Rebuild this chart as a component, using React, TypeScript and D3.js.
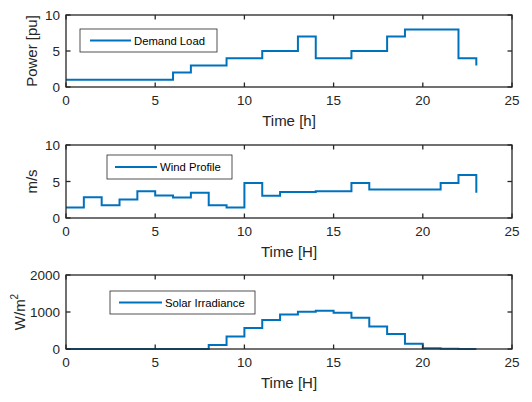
import React from "react";
import * as d3 from "d3";

const hours = d3.range(0, 24);
const demandLoad = [1, 1, 1, 1, 1, 1, 2, 3, 3, 4, 4, 5, 5, 7, 4, 4, 5, 5, 7, 8, 8, 8, 4, 3];
const windProfile = [1.45, 2.85, 1.73, 2.55, 3.68, 3.09, 2.82, 3.45, 1.73, 1.45, 4.8, 3.05, 3.55, 3.55, 3.65, 3.65, 4.8, 3.9, 3.9, 3.9, 3.9, 4.8, 5.9, 3.45];
const solarIrradiance = [0, 0, 0, 0, 0, 0, 0, 0, 110, 335, 570, 787, 932, 1004, 1032, 977, 842, 606, 407, 145, 18, 5, 0, 0];
const xTicks = [0, 5, 10, 15, 20, 25];
const loadTicks = [0, 5, 10];
const windTicks = [0, 5, 10];
const solarTicks = [0, 1000, 2000];

const W = 532;
const H = 402;
const LEFT = 66;
const RIGHT = 512;
const BLUE = "#0072BD";
const INK = "#262626";
const FONT = "'Liberation Sans', Arial, Helvetica, sans-serif";

type PanelProps = {
  top: number;
  bottom: number;
  values: number[];
  yMax: number;
  yTicks: number[];
  xLabel: string;
  yLabel: React.ReactNode;
  yLabelX: number;
  legend: { x: number; y: number; w: number; h: number; lineX1: number; lineX2: number; text: string };
};

function Panel({ top, bottom, values, yMax, yTicks, xLabel, yLabel, yLabelX, legend }: PanelProps) {
  const x = d3.scaleLinear().domain([0, 25]).range([LEFT, RIGHT]);
  const y = d3.scaleLinear().domain([0, yMax]).range([bottom, top]);
  const pts: [number, number][] = hours.map((h, i) => [h, values[i]]);
  const line = d3
    .line<[number, number]>()
    .x((d) => x(d[0]))
    .y((d) => y(d[1]))
    .curve(d3.curveStepAfter);
  const tl = 4.5;
  return (
    <g>
      <path d={line(pts) || ""} fill="none" stroke={BLUE} strokeWidth={2} />
      <rect x={LEFT} y={top} width={RIGHT - LEFT} height={bottom - top} fill="none" stroke={INK} strokeWidth={1.3} />
      {xTicks.map((t) => (
        <g key={"x" + t}>
          <line x1={x(t)} x2={x(t)} y1={bottom} y2={bottom - tl} stroke={INK} strokeWidth={1.3} />
          <line x1={x(t)} x2={x(t)} y1={top} y2={top + tl} stroke={INK} strokeWidth={1.3} />
          <text x={x(t)} y={bottom + 18} textAnchor="middle" fontSize={13.5} fill={INK} fontFamily={FONT}>
            {t}
          </text>
        </g>
      ))}
      {yTicks.map((t) => (
        <g key={"y" + t}>
          <line x1={LEFT} x2={LEFT + tl} y1={y(t)} y2={y(t)} stroke={INK} strokeWidth={1.3} />
          <line x1={RIGHT} x2={RIGHT - tl} y1={y(t)} y2={y(t)} stroke={INK} strokeWidth={1.3} />
          <text x={LEFT - 6} y={y(t) + 5} textAnchor="end" fontSize={13.5} fill={INK} fontFamily={FONT}>
            {t}
          </text>
        </g>
      ))}
      <text x={(LEFT + RIGHT) / 2} y={bottom + 39} textAnchor="middle" fontSize={15} fill={INK} fontFamily={FONT}>
        {xLabel}
      </text>
      <text
        transform={`translate(${yLabelX},${(top + bottom) / 2}) rotate(-90)`}
        textAnchor="middle"
        fontSize={15}
        fill={INK}
        fontFamily={FONT}
      >
        {yLabel}
      </text>
      <rect x={legend.x} y={legend.y} width={legend.w} height={legend.h} fill="#fff" stroke={INK} strokeWidth={0.8} />
      <line
        x1={legend.lineX1}
        x2={legend.lineX2}
        y1={legend.y + legend.h / 2}
        y2={legend.y + legend.h / 2}
        stroke={BLUE}
        strokeWidth={2}
      />
      <text x={legend.lineX2 + 3} y={legend.y + legend.h / 2 + 4} fontSize={11.3} fill="#000" fontFamily={FONT}>
        {legend.text}
      </text>
    </g>
  );
}

export default function App() {
  return (
    <svg width={W} height={H} style={{ position: "absolute", left: 0, top: 0, background: "#fff" }}>
      <rect width={W} height={H} fill="#fff" />
      <Panel
        top={15}
        bottom={87}
        values={demandLoad}
        yMax={10}
        yTicks={loadTicks}
        xLabel="Time [h]"
        yLabel="Power [pu]"
        yLabelX={37}
        legend={{ x: 80, y: 29, w: 137, h: 23, lineX1: 90, lineX2: 131, text: "Demand Load" }}
      />
      <Panel
        top={145}
        bottom={218}
        values={windProfile}
        yMax={10}
        yTicks={windTicks}
        xLabel="Time [H]"
        yLabel="m/s"
        yLabelX={37}
        legend={{ x: 107, y: 155, w: 125, h: 24, lineX1: 115, lineX2: 157, text: "Wind Profile" }}
      />
      <Panel
        top={275}
        bottom={349}
        values={solarIrradiance}
        yMax={2000}
        yTicks={solarTicks}
        xLabel="Time [H]"
        yLabel={
          <>
            W/m<tspan fontSize={10} dy={-7}>2</tspan>
          </>
        }
        yLabelX={25}
        legend={{ x: 110, y: 291, w: 145, h: 23, lineX1: 119, lineX2: 162, text: "Solar Irradiance" }}
      />
    </svg>
  );
}
